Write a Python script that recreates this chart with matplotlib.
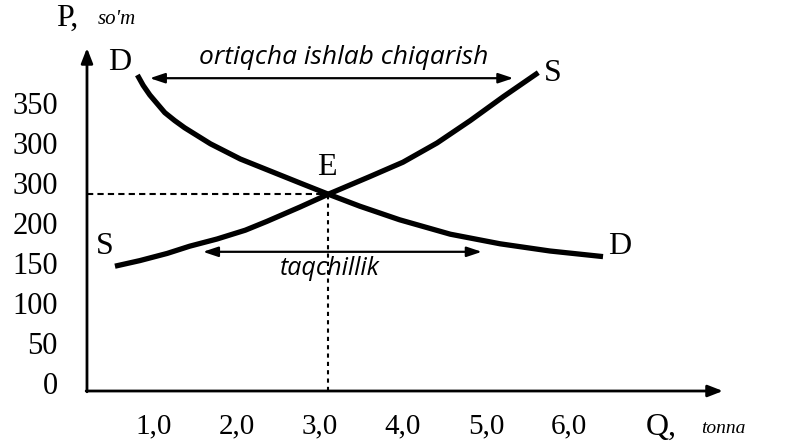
import matplotlib
matplotlib.use("Agg")
import matplotlib.pyplot as plt

# ---- data ----
q_demand = [0.80, 0.87, 0.95, 1.04, 1.13, 1.25, 1.37, 1.68, 2.04, 2.40, 2.76, 3.10, 3.48, 3.96, 4.57, 5.17, 5.77, 6.41]
p_demand = [385, 372, 360, 349, 338, 328, 319, 299, 280, 265, 250, 236, 221, 204, 186, 174, 165, 158]
q_supply = [0.53, 0.83, 1.16, 1.43, 1.76, 2.10, 2.36, 2.76, 3.10, 3.60, 4.00, 4.41, 4.81, 5.21, 5.63]
p_supply = [146, 153, 162, 171, 180, 191, 202, 220, 236, 258, 276, 300, 328, 358, 388]
q_eq, p_eq = 3.10, 236
surplus_q = [0.95, 5.33]
surplus_p = 381
shortage_q = [1.59, 4.95]
shortage_p = 164
x_ticks = [1, 2, 3, 4, 5, 6]
x_tick_labels = ["1,0", "2,0", "3,0", "4,0", "5,0", "6,0"]
y_ticks = [0, 50, 100, 150, 200, 250, 300, 350]
y_tick_labels = ["0", "50", "100", "150", "200", "300", "300", "350"]

# ---- layout ----
SERIF = "Liberation Serif"
ITAL = "Open Sans"
fig = plt.figure(figsize=(7.97, 4.43), dpi=100)
ax = fig.add_axes([0, 0, 1, 1])
ax.set_xlim(-0.855, 8.747)
ax.set_ylim(-75, 478.75)

x0, y0 = 0.193, -10          # axis origin in data units
x_end, y_end = 7.855, 418.75  # arrow tips

for s in ax.spines.values():
    s.set_visible(False)
ax.spines["left"].set_position(("data", x0))
ax.spines["bottom"].set_position(("data", y0))
ax.set_xticks(x_ticks)
ax.set_xticklabels(x_tick_labels, fontfamily=SERIF, fontsize=21)
ax.set_yticks(y_ticks)
ax.set_yticklabels(y_tick_labels, fontfamily=SERIF, fontsize=22)
ax.tick_params(axis="x", length=0, pad=16)
ax.tick_params(axis="y", length=0, pad=21)
ax.patch.set_alpha(0)

# axes with arrows
arrow_axis = dict(arrowstyle="-|>,head_length=0.9,head_width=0.35", lw=2, color="black",
                  shrinkA=0, shrinkB=0)
ax.annotate("", xy=(x_end, y0), xytext=(x0 - 0.01, y0), arrowprops=arrow_axis)
ax.annotate("", xy=(x0, y_end), xytext=(x0, y0 - 1), arrowprops=arrow_axis)

# curves
ax.plot(q_demand, p_demand, color="black", lw=3.8, solid_capstyle="butt", solid_joinstyle="round")
ax.plot(q_supply, p_supply, color="black", lw=3.8, solid_capstyle="butt", solid_joinstyle="round")

# equilibrium guides
ax.plot([x0, q_eq], [p_eq, p_eq], color="black", lw=1.5, ls=(0, (3, 2)))
ax.plot([q_eq, q_eq], [y0, p_eq], color="black", lw=1.5, ls=(0, (2, 2)))

# double arrows
arrow_dbl = dict(arrowstyle="<|-|>,head_length=0.9,head_width=0.3", lw=1.6, color="black",
                 shrinkA=0, shrinkB=0)
ax.annotate("", xy=(surplus_q[0], surplus_p), xytext=(surplus_q[1], surplus_p), arrowprops=arrow_dbl)
ax.annotate("", xy=(shortage_q[0], shortage_p), xytext=(shortage_q[1], shortage_p), arrowprops=arrow_dbl)

# texts
ax.text(3.28, 407, "ortiqcha ishlab chiqarish", fontfamily=ITAL, style="italic",
        fontsize=19, ha="center", va="center")
ax.text(3.12, 143, "taqchillik", fontfamily=ITAL, style="italic",
        fontsize=18, ha="center", va="center")
ax.text(0.59, 401, "D", fontfamily=SERIF, fontsize=23, ha="center", va="center")
ax.text(5.81, 387, "S", fontfamily=SERIF, fontsize=23, ha="center", va="center")
ax.text(3.08, 270, "E", fontfamily=SERIF, fontsize=23, ha="center", va="center")
ax.text(0.41, 170, "S", fontfamily=SERIF, fontsize=23, ha="center", va="center")
ax.text(6.61, 171, "D", fontfamily=SERIF, fontsize=23, ha="center", va="center")
ax.text(-0.05, 456, "P,", fontfamily=SERIF, fontsize=23, ha="center", va="center")
ax.text(0.55, 454, "so'm", fontfamily=SERIF, style="italic", fontsize=15, ha="center", va="center")
ax.text(7.11, -56, "Q,", fontfamily=SERIF, fontsize=23, ha="center", va="center")
ax.text(7.86, -57, "tonna", fontfamily=SERIF, style="italic", fontsize=14, ha="center", va="center")

fig.savefig("out.png", dpi=100)
